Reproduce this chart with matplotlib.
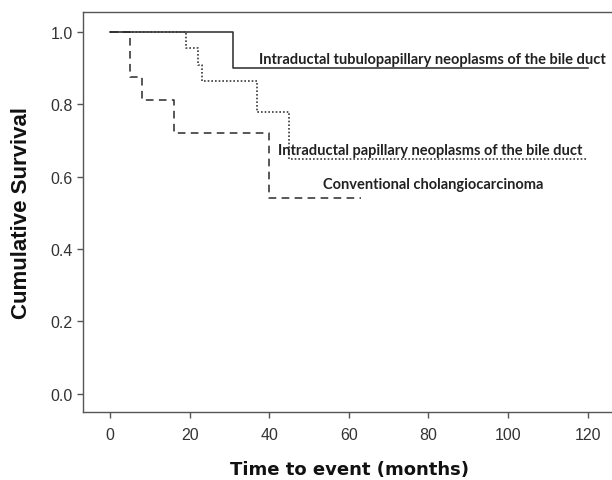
import matplotlib.pyplot as plt

# Kaplan-Meier step data (months, cumulative survival)
tubulo_t = [0, 31, 120]
tubulo_s = [1.0, 0.90, 0.90]

papillary_t = [0, 19, 22, 23, 37, 45, 120]
papillary_s = [1.0, 0.955, 0.909, 0.864, 0.778, 0.648, 0.648]

conventional_t = [0, 5, 8, 16, 40, 63]
conventional_s = [1.0, 0.875, 0.8125, 0.722, 0.542, 0.542]

x_ticks = [0, 20, 40, 60, 80, 100, 120]
y_ticks = [0.0, 0.2, 0.4, 0.6, 0.8, 1.0]

fig = plt.figure(figsize=(6.12, 4.81), dpi=100)
ax = fig.add_axes([0.1356, 0.1414, 0.8644, 0.8316])

line_col = '#2a2a2a'
ax.step(tubulo_t, tubulo_s, where='post', color=line_col, lw=1.1, linestyle='-')
ax.step(papillary_t, papillary_s, where='post', color='#3a3a3a', lw=1.2, linestyle=(0, (1, 1.2)))
ax.step(conventional_t, conventional_s, where='post', color=line_col, lw=1.1, linestyle=(0, (5, 3.5)))

# Curve labels
lab_font = dict(family=['Lato', 'DejaVu Sans'], fontsize=10.5, fontweight='bold',
                color='#222222', va='center')
ax.text(37.5, 0.925, 'Intraductal tubulopapillary neoplasms of the bile duct', **lab_font)
ax.text(42.2, 0.674, 'Intraductal papillary neoplasms of the bile duct', **lab_font)
ax.text(53.5, 0.580, 'Conventional cholangiocarcinoma', **lab_font)

ax.set_xlim(-6.8, 126.1)
ax.set_ylim(-0.05, 1.055)
ax.set_xticks(x_ticks)
ax.set_yticks(y_ticks)
ax.set_yticklabels([f'{v:.1f}' for v in y_ticks])

for s in ['left', 'bottom', 'top']:
    ax.spines[s].set_color('#555555')
    ax.spines[s].set_linewidth(1.0)
ax.spines['right'].set_visible(False)

ax.tick_params(direction='out', length=4, width=1, color='#555555', labelcolor='#333333',
               labelsize=11.5)
ax.tick_params(axis='x', pad=7)
for lab in ax.get_xticklabels() + ax.get_yticklabels():
    lab.set_family(['Liberation Sans', 'DejaVu Sans'])

ax.set_xlabel('Time to event (months)', family=['DejaVu Sans'],
              fontsize=13, fontweight='bold', color='#111111', va='center')
ax.set_ylabel('Cumulative Survival', family=['Liberation Sans', 'DejaVu Sans'],
              fontsize=16, fontweight='bold', color='#111111', va='center')
ax.xaxis.set_label_coords(0.503, -0.1425)
ax.yaxis.set_label_coords(-0.117, 0.5)

fig.savefig('out.png', dpi=100)
